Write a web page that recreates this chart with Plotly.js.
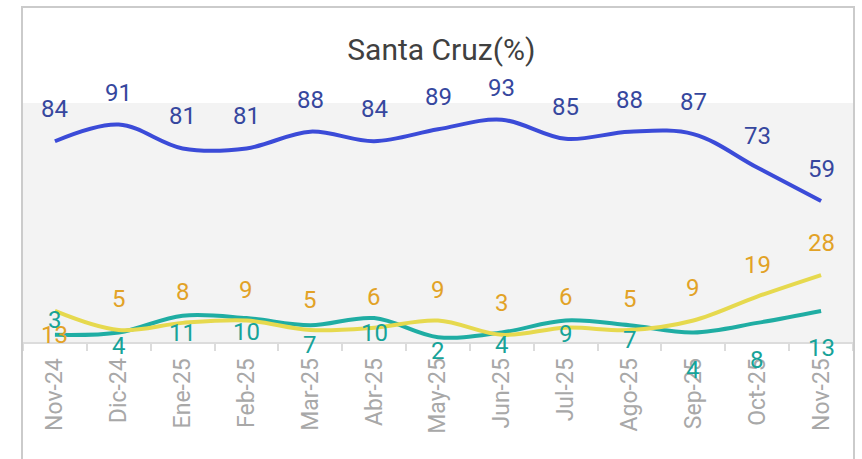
<!DOCTYPE html>
<html>
<head>
<meta charset="utf-8">
<script src="https://cdn.plot.ly/plotly-3.0.1.min.js"></script>
<style>
  html, body { margin: 0; padding: 0; background: #ffffff; }
  #wrap { position: relative; width: 862px; height: 459px; overflow: hidden; }
  #chart { position: absolute; left: 0; top: 0; width: 862px; height: 459px; }
  #card { position: absolute; left: 21px; top: 6px; width: 830px; height: 470px;
          border: 2px solid #cbcbcb; pointer-events: none; }
</style>
</head>
<body>
<div id="wrap">
  <div id="chart"></div>
  <div id="card"></div>
</div>
<script>
// ---- data ----
const months = ["Nov-24","Dic-24","Ene-25","Feb-25","Mar-25","Abr-25","May-25","Jun-25","Jul-25","Ago-25","Sep-25","Oct-25","Nov-25"];
const serieAzul = [84, 91, 81, 81, 88, 84, 89, 93, 85, 88, 87, 73, 59];
const serieAmarilla = [13, 5, 8, 9, 5, 6, 9, 3, 6, 5, 9, 19, 28];
const serieVerde = [3, 4, 11, 10, 7, 10, 2, 4, 9, 7, 4, 8, 13];
const titleText = "Santa Cruz(%)";

// ---- label offsets (px, style only) ----
const shiftAzul = months.map(() => 32);
const shiftAmarilla = [-24, 31, 31, 30, 30, 31, 30, 32, 31, 31, 32, 32, 32];
const shiftVerde = [15, -14, -17, -14, -20, -15, -14, -13, -14, -15, -38, -37, -37];

const FONT = "Roboto, 'DejaVu Sans', sans-serif";
const series = [
  {y: serieAzul, line: "#3b4bd8", label: "#36479e", shifts: shiftAzul},
  {y: serieVerde, line: "#1fada3", label: "#17a399", shifts: shiftVerde},
  {y: serieAmarilla, line: "#e6d94e", label: "#e2a226", shifts: shiftAmarilla}
];

const traces = series.map(s => ({
  type: "scatter", mode: "lines", x: months, y: s.y,
  line: {color: s.line, width: 4, shape: "spline", smoothing: 1},
  hoverinfo: "skip", showlegend: false
}));

const annotations = [];
series.forEach(s => {
  s.y.forEach((v, i) => {
    annotations.push({
      x: months[i], y: v, xref: "x", yref: "y", text: String(v),
      showarrow: false, yshift: s.shifts[i],
      font: {family: FONT, size: 24, color: s.label}
    });
  });
});

const layout = {
  width: 862, height: 459,
  margin: {l: 23, r: 9, t: 103, b: 117, pad: 0},
  paper_bgcolor: "#ffffff",
  plot_bgcolor: "#f3f3f3",
  title: {text: titleText, x: 0.512, xanchor: "center", y: 0.893, yanchor: "middle",
          font: {family: FONT, size: 30, color: "#404040"}},
  xaxis: {
    type: "category", range: [-0.5, 12.5], fixedrange: true,
    showgrid: false, zeroline: false,
    showline: true, linecolor: "#dcdcdc", linewidth: 2,
    ticks: "outside", tickson: "boundaries", ticklen: 7, tickcolor: "#dcdcdc", tickwidth: 2,
    tickangle: -90, ticklabelstandoff: 5,
    tickfont: {family: FONT, size: 23, color: "#a8a8a8"}
  },
  yaxis: {
    range: [0, 100], visible: false, showgrid: false, zeroline: false, fixedrange: true
  },
  annotations: annotations,
  showlegend: false
};

Plotly.newPlot("chart", traces, layout, {displayModeBar: false, staticPlot: true});
</script>
</body>
</html>
